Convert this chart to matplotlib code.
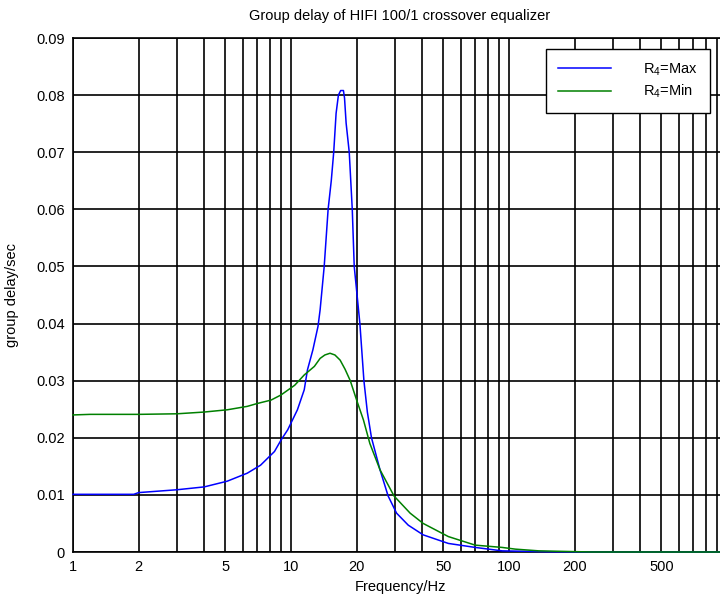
import numpy as np
import matplotlib
matplotlib.use('Agg')
import matplotlib.pyplot as plt

# group delay, R4 = Max (blue)
freq_max = [1, 1.9, 2.0, 3.0, 4.0, 5.1, 6.3, 7.25, 8.4, 9.0, 9.66, 10.7, 11.5, 11.9,
            12.6, 13.3, 13.6, 14.2, 14.8, 15.3, 15.7, 16.1, 16.5, 16.9, 17.4, 17.6,
            17.9, 18.5, 19.1, 19.5, 20.2, 20.7, 21.6, 22.4, 23.4, 25.6, 27.9, 30.5,
            34.5, 40.4, 52.7, 70, 93, 150, 240, 1000]
gd_max = [0.0101, 0.0101, 0.0104, 0.0109, 0.0114, 0.0124, 0.0138, 0.0152, 0.0176, 0.0196,
          0.0214, 0.0249, 0.0284, 0.0319, 0.0354, 0.0395, 0.0424, 0.050, 0.060, 0.065,
          0.070, 0.0768, 0.0800, 0.0808, 0.0808, 0.0795, 0.0751, 0.070, 0.060, 0.050,
          0.0441, 0.040, 0.030, 0.0245, 0.020, 0.0144, 0.0098, 0.0068, 0.0047, 0.0030,
          0.0015, 0.0008, 0.0002, 0.00005, 0.0, 0.0]

# R4 = Min (green)
freq_min = [1, 1.2, 2.0, 3.0, 3.98, 5.1, 6.3, 7.0, 8.1, 9.0, 10.4, 11.5, 12.8, 13.6,
            14.3, 15.1, 15.9, 16.8, 17.7, 18.7, 20.0, 21.5, 23.0, 25.6, 29.7, 35.2,
            40.4, 52.7, 70, 93, 107, 137, 240, 1000]
gd_min = [0.0240, 0.0241, 0.0241, 0.0242, 0.0245, 0.0249, 0.0255, 0.0260, 0.0266, 0.0275,
          0.0292, 0.0310, 0.0325, 0.0339, 0.0345, 0.0348, 0.0345, 0.0336, 0.0320, 0.030,
          0.0266, 0.0231, 0.019, 0.0144, 0.0098, 0.0068, 0.0050, 0.0027, 0.0012, 0.0008,
          0.0005, 0.0002, 0.0, 0.0]

xticks = [1, 2, 5, 10, 20, 50, 100, 200, 500]
xticklabels = ['1', '2', '5', '10', '20', '50', '100', '200', '500']
yticks = [0, 0.01, 0.02, 0.03, 0.04, 0.05, 0.06, 0.07, 0.08, 0.09]
yticklabels = ['0', '0.01', '0.02', '0.03', '0.04', '0.05', '0.06', '0.07', '0.08', '0.09']

plt.rcParams['font.family'] = ['Liberation Sans', 'DejaVu Sans']
plt.rcParams['mathtext.default'] = 'regular'
plt.rcParams['font.size'] = 10.5

fig = plt.figure(figsize=(7.2, 6.01), dpi=100)
# right edge of the axes sits just past the figure, like the cropped original
ax = fig.add_axes([73/720, 49/601, 654/720, 514/601])

ax.plot(freq_max, gd_max, color='#0000ff', lw=1.1, label='R$_4$=Max', zorder=5, clip_on=False)
ax.plot(freq_min, gd_min, color='#008000', lw=1.1, label='R$_4$=Min', zorder=5, clip_on=False)

ax.set_xscale('log')
ax.set_xlim(1, 1000)
ax.set_ylim(0, 0.09)
ax.set_xticks(xticks)
ax.set_xticklabels(xticklabels)
ax.set_yticks(yticks)
ax.set_yticklabels(yticklabels)
ax.xaxis.set_minor_formatter(matplotlib.ticker.NullFormatter())
ax.tick_params(which='both', direction='in', length=0, labelsize=10.5)
ax.tick_params(axis='y', pad=6)
ax.tick_params(axis='x', pad=6)

ax.grid(True, which='major', color='black', lw=1.2)
ax.grid(True, which='minor', axis='x', color='black', lw=1.2)
ax.set_axisbelow(True)
for s in ax.spines.values():
    s.set_linewidth(1.2)
    s.set_color('black')

ax.set_title('Group delay of HIFI 100/1 crossover equalizer', fontsize=10.5, pad=13)
ax.set_xlabel('Frequency/Hz', fontsize=10.5, labelpad=4)
ax.set_ylabel('group delay/sec', fontsize=10.5, labelpad=12)

leg = ax.legend(loc='upper right', bbox_to_anchor=(710/720, 1 - 49/601),
                bbox_transform=fig.transFigure, borderaxespad=0, fancybox=False,
                framealpha=1, edgecolor='black', handlelength=3.6, handletextpad=2.2,
                borderpad=0.85, labelspacing=0.35, fontsize=10.5)
leg.get_frame().set_linewidth(1.0)

fig.savefig('out.png', dpi=100)
